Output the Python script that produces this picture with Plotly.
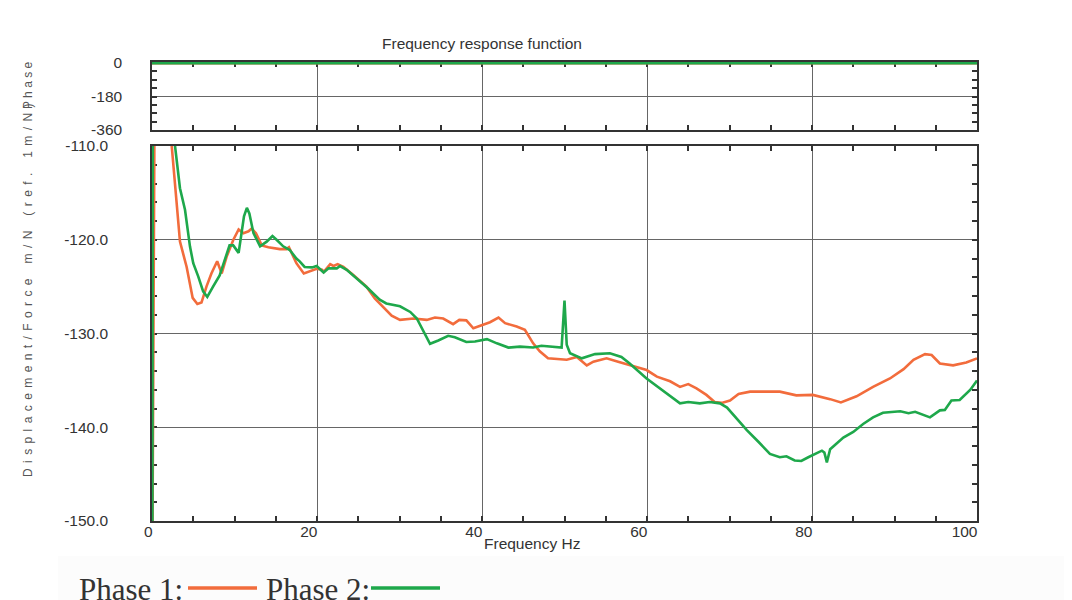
import plotly.graph_objects as go

# ---- data -----------------------------------------------------------------
phase1_freq = [0.0, 0.35, 2.2, 2.39, 3.39, 4.2, 4.93, 5.5, 6.0, 6.6, 7.2, 7.9, 8.45, 9.05,
               9.86, 10.5, 11.07, 11.7, 12.08, 12.6, 13.3, 14.1, 15.5, 16.3, 16.6, 17.5,
               18.4, 19.2, 19.96, 20.6, 20.85, 21.6, 22.0, 22.5, 23.2, 24.4, 26.0, 27.0,
               28.0, 29.05, 30.06, 31.7, 33.3, 34.3, 35.3, 36.5, 37.25, 38.1, 38.95, 39.95,
               40.97, 42.0, 42.8, 44.2, 45.2, 46.2, 47.0, 48.0, 49.45, 50.27, 51.5, 52.7,
               53.5, 54.3, 55.1, 56.5, 58.3, 59.95, 61.2, 62.8, 64.0, 65.0, 66.0, 67.2,
               68.2, 69.05, 70.06, 71.1, 72.5, 74.5, 76.1, 78.1, 80.1, 82.2, 83.5, 85.4,
               87.4, 89.45, 91.1, 92.3, 93.7, 94.5, 95.5, 97.1, 98.7, 100.0]
phase1_mag = [-162, -98, -100, -110, -120.2, -122.9, -126.2, -126.85, -126.7, -125.0,
              -123.6, -122.3, -123.6, -121.8, -120.0, -118.9, -119.3, -119.1, -118.8,
              -119.3, -120.6, -120.8, -121.0, -121.0, -120.8, -122.5, -123.6, -123.3,
              -123.1, -123.2, -123.4, -122.6, -122.8, -122.6, -122.9, -123.75, -125.0,
              -126.25, -127.1, -128.1, -128.55, -128.4, -128.55, -128.3, -128.4, -129.0,
              -128.55, -128.6, -129.45, -129.1, -128.8, -128.3, -128.9, -129.25, -129.6,
              -131.05, -131.9, -132.65, -132.75, -132.8, -132.5, -133.4, -133.0, -132.8,
              -132.65, -133.0, -133.5, -133.9, -134.6, -135.1, -135.7, -135.4, -135.85,
              -136.55, -137.3, -137.4, -137.15, -136.45, -136.2, -136.2, -136.2, -136.6,
              -136.55, -137.0, -137.35, -136.7, -135.7, -134.8, -133.8, -132.8, -132.2,
              -132.3, -133.2, -133.4, -133.1, -132.65]

phase2_freq = [0.0, 0.1, 2.5, 2.79, 3.39, 4.0, 4.6, 5.0, 5.6, 6.2, 6.7, 7.03, 7.4, 8.2,
               8.7, 9.4, 9.85, 10.5, 10.85, 11.15, 11.5, 11.8, 12.3, 13.1, 13.9, 14.6,
               15.1, 15.9, 16.7, 17.5, 17.9, 18.5, 19.4, 19.96, 20.8, 21.4, 22.4, 22.8,
               23.6, 24.8, 26.2, 27.6, 28.4, 30.06, 31.3, 32.1, 32.9, 33.7, 34.7, 35.9,
               36.7, 38.1, 39.15, 40.6, 41.8, 43.2, 44.6, 46.2, 47.2, 48.65, 49.65, 50.0,
               50.27, 50.67, 52.1, 53.7, 55.5, 56.9, 57.9, 59.95, 61.8, 63.2, 64.0, 65.0,
               66.4, 67.6, 68.85, 69.7, 70.7, 72.1, 73.5, 74.9, 76.1, 76.9, 77.9, 78.7,
               79.55, 80.4, 81.2, 81.5, 81.8, 82.2, 83.8, 85.0, 86.2, 87.4, 88.6, 90.7,
               91.7, 92.5, 94.3, 95.5, 96.1, 96.9, 97.9, 99.2, 100.0]
phase2_mag = [-200, -100, -100, -110, -114.5, -116.8, -120.7, -122.5, -123.9, -125.5,
              -126.1, -125.5, -125.0, -123.8, -122.5, -120.6, -120.6, -121.4, -119.3,
              -117.5, -116.6, -117.2, -119.3, -120.7, -120.2, -119.6, -120.0, -120.7,
              -121.1, -122.0, -122.3, -122.9, -122.95, -122.8, -123.5, -123.05, -123.05,
              -122.8, -123.2, -124.1, -125.2, -126.4, -126.8, -127.1, -127.7, -128.4,
              -129.8, -131.1, -130.75, -130.25, -130.4, -130.9, -130.85, -130.6, -131.05,
              -131.5, -131.4, -131.5, -131.3, -131.4, -131.5, -126.5, -131.2, -132.1,
              -132.65, -132.2, -132.1, -132.5, -133.2, -134.8, -136.0, -136.9, -137.45,
              -137.3, -137.45, -137.3, -137.45, -137.9, -138.9, -140.3, -141.55, -142.85,
              -143.2, -143.1, -143.55, -143.6, -143.2, -142.8, -142.5, -142.7, -143.75,
              -142.35, -141.1, -140.5, -139.65, -138.95, -138.45, -138.3, -138.5, -138.35,
              -138.95, -138.2, -138.15, -137.15, -137.1, -136.0, -135.0]

# phase (degrees) over the whole band
phase_freq = [0, 100]
phase1_deg = [0, 0]
phase2_deg = [0, 0]

x_ticks = [0, 20, 40, 60, 80, 100]
mag_ticks = [-150, -140, -130, -120, -110]
mag_tick_text = ["-150.0", "-140.0", "-130.0", "-120.0", "-110.0"]
phase_ticks = [0, -180, -360]
phase_tick_text = ["0", "-180", "-360"]

series_names = ["Phase 1:", "Phase 2:"]
ORANGE = "#F26C3C"
GREEN = "#1EA84B"

# ---- page geometry (pixels) ------------------------------------------------
W, H = 1072, 600
L, R = 152, 977            # plot left / right
TOP, BOT = 62, 521         # top of phase panel frame / bottom of magnitude panel
MAG_TOP = 146
PH_ZERO, PH_BOT = 63, 130  # pixel rows of 0 deg and -360 deg
AREA_H = BOT - TOP
AREA_W = R - L

def px(xp):
    return (xp - L) / AREA_W

def py(yp):
    return (BOT - yp) / AREA_H

phase_top = (PH_ZERO - TOP) * 360.0 / (PH_BOT - PH_ZERO)

FONT = "Liberation Sans, Arial, sans-serif"
SERIF = "Liberation Serif, Times New Roman, serif"
INK = "#333333"
FRAME = "#333333"
GRID = "#666666"
TICK_SIZE = 15.5

fig = go.Figure()

fig.add_trace(go.Scatter(x=phase1_freq, y=phase1_mag, mode="lines", name=series_names[0],
                         line=dict(color=ORANGE, width=2.6), xaxis="x", yaxis="y"))
fig.add_trace(go.Scatter(x=phase2_freq, y=phase2_mag, mode="lines", name=series_names[1],
                         line=dict(color=GREEN, width=2.6), xaxis="x", yaxis="y"))
fig.add_trace(go.Scatter(x=phase_freq, y=phase1_deg, mode="lines", showlegend=False,
                         line=dict(color=ORANGE, width=3), xaxis="x2", yaxis="y2"))
fig.add_trace(go.Scatter(x=phase_freq, y=phase2_deg, mode="lines", showlegend=False,
                         line=dict(color=GREEN, width=3), xaxis="x2", yaxis="y2"))

common_x = dict(range=[0, 100], showline=True, linecolor=FRAME, linewidth=1.5,
                mirror="allticks", ticks="inside", ticklen=5, tickcolor=FRAME, tickwidth=1.5,
                tickvals=x_ticks, showgrid=True, gridcolor=GRID, gridwidth=1,
                zeroline=False, layer="below traces",
                minor=dict(dtick=5, tick0=0, ticks="inside", ticklen=5, tickcolor=FRAME,
                           tickwidth=1.5, showgrid=False))

common_y = dict(showline=True, linecolor=FRAME, linewidth=1.5, mirror="allticks",
                ticks="inside", ticklen=5, tickcolor=FRAME, tickwidth=1.5,
                showgrid=True, gridcolor=GRID, gridwidth=1, zeroline=False,
                layer="below traces",
                tickfont=dict(family=FONT, size=TICK_SIZE, color=INK))

fig.update_layout(
    width=W, height=H,
    margin=dict(l=L, r=W - R, t=TOP, b=H - BOT, pad=0),
    paper_bgcolor="white", plot_bgcolor="white",
    showlegend=False,
    xaxis=dict(**common_x, anchor="y", ticktext=[str(v) for v in x_ticks],
               ticklabelposition="outside left", ticklabelstandoff=-4, ticklabelshift=2,
               tickfont=dict(family=FONT, size=TICK_SIZE, color=INK)),
    yaxis=dict(**common_y, domain=[0, (BOT - MAG_TOP) / AREA_H], range=[-150, -110],
               tickvals=mag_ticks, ticktext=mag_tick_text, ticklabelstandoff=39,
               minor=dict(dtick=2, tick0=-150, ticks="inside", ticklen=5,
                          tickcolor=FRAME, tickwidth=1.5, showgrid=False)),
    xaxis2=dict(**common_x, anchor="y2", matches="x", showticklabels=False),
    yaxis2=dict(**common_y, domain=[(BOT - PH_BOT) / AREA_H, 1], range=[-360, phase_top],
                tickvals=phase_ticks, ticktext=phase_tick_text, ticklabelstandoff=25,
                minor=dict(dtick=45, tick0=0, ticks="inside", ticklen=5,
                           tickcolor=FRAME, tickwidth=1.5, showgrid=False)),
)

# letter-spaced axis captions
LETTER_GAP = "\u2005\u2009"
WORD_GAP = "\u2002\u2002\u2005"

def spaced(s, gap):
    return gap.join(s)

ytitle = WORD_GAP.join(spaced(w, LETTER_GAP)
                       for w in "Displacement/Force m/N (ref. 1m/N)".split(" "))

annotations = [
    dict(text="Frequency response function", x=px(482), y=py(43), xref="paper", yref="paper",
         xanchor="center", yanchor="middle", showarrow=False,
         font=dict(family=FONT, size=TICK_SIZE, color=INK)),
    dict(text="Frequency Hz", x=px(482), y=py(543), xref="paper", yref="paper",
         xanchor="left", yanchor="middle", showarrow=False,
         font=dict(family=FONT, size=TICK_SIZE, color=INK)),
    dict(text=ytitle, x=px(28), y=py(290), xref="paper", yref="paper", textangle=-90,
         xanchor="center", yanchor="middle", showarrow=False,
         font=dict(family=FONT, size=12, color="#555555")),
    dict(text=spaced("Phase", " "), x=px(28), y=py(86), xref="paper", yref="paper",
         textangle=-90, xanchor="center", yanchor="middle", showarrow=False,
         font=dict(family=FONT, size=12, color="#555555")),
    dict(text=series_names[0], x=px(77), y=py(589), xref="paper", yref="paper",
         xanchor="left", yanchor="middle", showarrow=False,
         font=dict(family=SERIF, size=31, color=INK)),
    dict(text=series_names[1], x=px(264), y=py(589), xref="paper", yref="paper",
         xanchor="left", yanchor="middle", showarrow=False,
         font=dict(family=SERIF, size=31, color=INK)),
]
fig.update_layout(annotations=annotations)

shapes = [
    dict(type="rect", xref="paper", yref="paper", x0=px(58), x1=px(1064), y0=py(556), y1=py(600),
         fillcolor="#fcfcfc", line=dict(width=0), layer="below"),
    dict(type="line", xref="paper", yref="paper", x0=px(188), x1=px(257), y0=py(588), y1=py(588),
         line=dict(color=ORANGE, width=3.5)),
    dict(type="line", xref="paper", yref="paper", x0=px(371), x1=px(440), y0=py(588), y1=py(588),
         line=dict(color=GREEN, width=3.5)),
]
fig.update_layout(shapes=shapes)

fig.write_html("out.html")
